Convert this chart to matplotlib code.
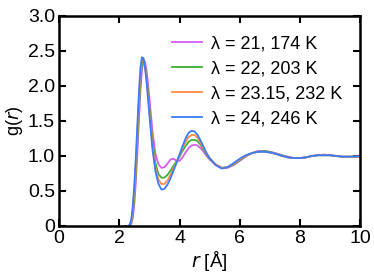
import matplotlib
matplotlib.use('Agg')
import matplotlib.pyplot as plt

plt.rcParams['font.family'] = ['Liberation Sans', 'DejaVu Sans']
plt.rcParams['mathtext.default'] = 'regular'

# data
r = [2.2, 2.3, 2.35, 2.4, 2.45, 2.5, 2.55, 2.6, 2.65, 2.7, 2.75, 2.8, 2.85, 2.9, 2.95,
     3.0, 3.1, 3.2, 3.3, 3.4, 3.5, 3.6, 3.7, 3.8, 3.9, 4.0, 4.1, 4.2, 4.3, 4.4, 4.5,
     4.6, 4.7, 4.8, 4.9, 5.0, 5.2, 5.4, 5.6, 5.8, 6.0, 6.2, 6.4, 6.6, 6.8, 7.0, 7.2,
     7.4, 7.6, 7.8, 8.0, 8.2, 8.4, 8.6, 8.8, 9.0, 9.2, 9.4, 9.6, 9.8, 10.0]

g_21 = [0, 0, 0.0, 0.03, 0.12, 0.32, 0.64, 1.05, 1.5, 1.92, 2.22, 2.35, 2.35, 2.24, 2.05,
        1.83, 1.36, 1.03, 0.88, 0.83, 0.84, 0.89, 0.95, 0.96, 0.93, 0.93, 0.98, 1.05, 1.11, 1.15, 1.16,
        1.15, 1.11, 1.06, 1.0, 0.95, 0.87, 0.83, 0.83, 0.87, 0.93, 0.99, 1.04, 1.07, 1.07, 1.06, 1.04,
        1.01, 0.99, 0.97, 0.97, 0.98, 1.0, 1.01, 1.02, 1.01, 1.0, 0.99, 0.99, 0.99, 0.99]

g_22 = [0, 0, 0.01, 0.05, 0.18, 0.42, 0.78, 1.2, 1.65, 2.05, 2.3, 2.36, 2.3, 2.15, 1.94,
        1.7, 1.22, 0.9, 0.74, 0.69, 0.69, 0.73, 0.79, 0.86, 0.92, 0.99, 1.07, 1.14, 1.2, 1.23, 1.23,
        1.21, 1.16, 1.09, 1.02, 0.96, 0.88, 0.83, 0.84, 0.88, 0.94, 1.0, 1.04, 1.06, 1.07, 1.06, 1.03,
        1.01, 0.98, 0.97, 0.97, 0.98, 1.0, 1.01, 1.01, 1.01, 1.0, 0.99, 0.99, 0.99, 0.99]

g_2315 = [0, 0, 0.01, 0.07, 0.24, 0.5, 0.88, 1.32, 1.77, 2.15, 2.37, 2.39, 2.3, 2.12, 1.89,
          1.64, 1.16, 0.83, 0.66, 0.6, 0.6, 0.65, 0.73, 0.82, 0.91, 1.01, 1.11, 1.2, 1.27, 1.3, 1.3,
          1.26, 1.19, 1.11, 1.03, 0.97, 0.88, 0.83, 0.84, 0.89, 0.95, 1.0, 1.04, 1.06, 1.06, 1.05, 1.03,
          1.0, 0.98, 0.97, 0.97, 0.98, 1.0, 1.01, 1.01, 1.01, 1.0, 0.99, 0.99, 0.99, 0.99]

g_24 = [0, 0, 0.02, 0.1, 0.3, 0.6, 1.0, 1.45, 1.9, 2.25, 2.41, 2.4, 2.28, 2.08, 1.84,
        1.58, 1.1, 0.78, 0.6, 0.52, 0.53, 0.59, 0.68, 0.79, 0.9, 1.02, 1.14, 1.25, 1.33, 1.36, 1.35,
        1.3, 1.22, 1.13, 1.04, 0.97, 0.87, 0.82, 0.84, 0.9, 0.96, 1.01, 1.04, 1.06, 1.06, 1.05, 1.03,
        1.0, 0.98, 0.97, 0.97, 0.98, 1.0, 1.01, 1.01, 1.01, 1.0, 0.99, 0.99, 0.99, 1.0]

labels = ['λ = 21, 174 K', 'λ = 22, 203 K', 'λ = 23.15, 232 K', 'λ = 24, 246 K']
colors = ['#d65cf2', '#3cb034', '#ff8a4a', '#3a7bff']

xticks = [0, 2, 4, 6, 8, 10]
yticks = [0, 0.5, 1.0, 1.5, 2.0, 2.5, 3.0]
yticklabels = ['0', '0.5', '1.0', '1.5', '2.0', '2.5', '3.0']

fig = plt.figure(figsize=(3.74, 2.8), dpi=100)
ax = fig.add_axes([0.158, 0.193, 0.805, 0.75])

for g, lab, c in zip([g_21, g_22, g_2315, g_24], labels, colors):
    ax.plot(r, g, color=c, linewidth=1.3, label=lab)

ax.set_xlim(0, 10)
ax.set_ylim(0, 3)
ax.set_xticks(xticks)
ax.set_xticklabels([str(t) for t in xticks])
ax.set_yticks(yticks)
ax.set_yticklabels(yticklabels)
ax.tick_params(direction='in', length=5, width=1.5, labelsize=14,
               top=True, right=True, pad=3)
for s in ax.spines.values():
    s.set_linewidth(1.8)

ax.set_xlabel(r'$\it{r}$ [Å]', fontsize=13.5, labelpad=1)
ax.set_ylabel(r'g($\it{r}$)', fontsize=13, labelpad=2)

ax.legend(loc='upper right', bbox_to_anchor=(0.975, 0.96), frameon=False, fontsize=13,
          handlelength=1.7, handletextpad=0.45, labelspacing=0.44, borderaxespad=0.2)

fig.savefig('out.png', dpi=100)
